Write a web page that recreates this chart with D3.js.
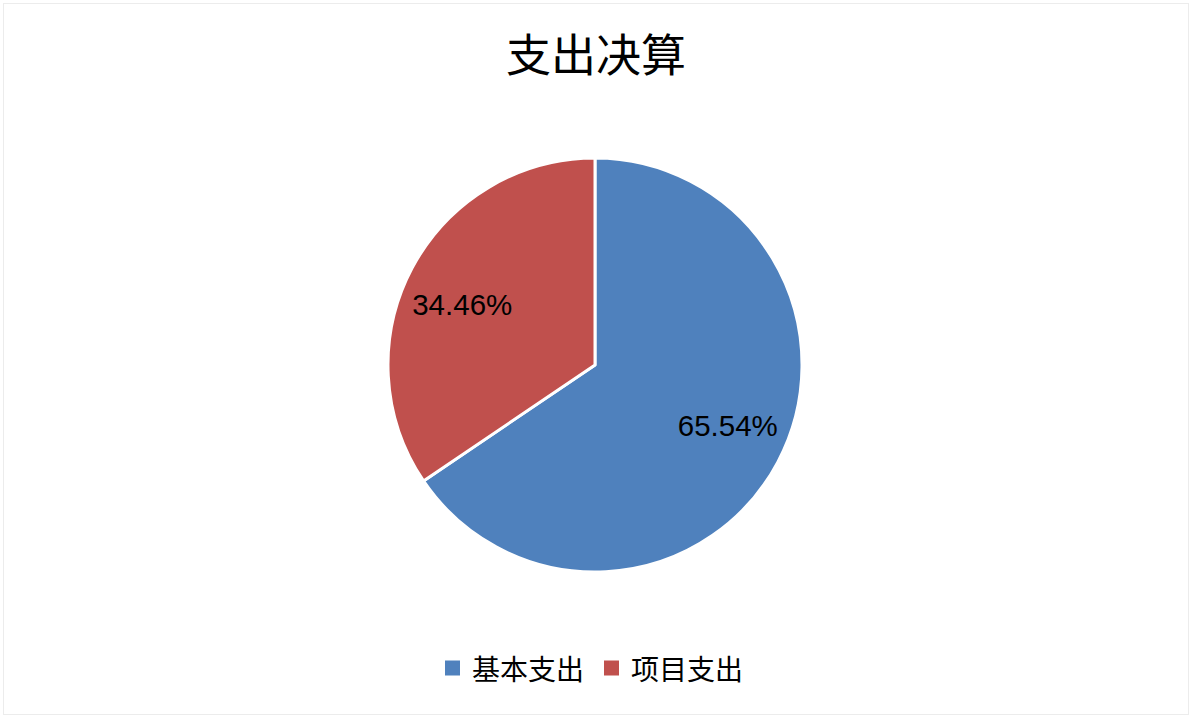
<!DOCTYPE html>
<html>
<head>
<meta charset="utf-8">
<script src="https://cdn.jsdelivr.net/npm/d3@7"></script>
<style>
    body { margin: 0; background: #fff; }
</style>
</head>
<body>
<div id="chart"></div>
<script>
var title = "支出决算";
var categories = ["基本支出", "项目支出"];
var values = [65.54, 34.46];
var colors = ["#4F81BD", "#C0504D"];

var width = 1195, height = 720;
var cx = 595, cy = 365, radius = 207;

var svg = d3.select("#chart")
    .append("svg")
    .attr("width", width)
    .attr("height", height);

// chart frame
svg.append("rect")
    .attr("x", 3.5)
    .attr("y", 3.5)
    .attr("width", 1185)
    .attr("height", 711)
    .attr("fill", "#fff")
    .attr("stroke", "#ececec")
    .attr("stroke-width", 1);

svg.append("text")
    .attr("x", 596)
    .attr("y", 52)
    .attr("text-anchor", "middle")
    .attr("dominant-baseline", "central")
    .attr("font-family", "'Noto Sans CJK SC', sans-serif")
    .attr("font-size", 45)
    .attr("fill", "#000")
    .text(title);

var color = d3.scaleOrdinal().domain(categories).range(colors);

var pie = d3.pie()
    .sort(null)
    .value(d => d.value);

var data = categories.map((c, i) => ({ name: c, value: values[i] }));

var arc = d3.arc().innerRadius(0).outerRadius(radius);

// label sits at ~70% of the radius, turned a little toward the horizontal
function labelPos(d) {
    let a = (d.startAngle + d.endAngle) / 2 - 0.06;
    let r = radius * 0.705;
    return [r * Math.sin(a), -r * Math.cos(a)];
}

var g = svg.append("g")
    .attr("transform", `translate(${cx},${cy})`);

var slices = g.selectAll("g.slice")
    .data(pie(data))
    .enter()
    .append("g")
    .attr("class", "slice");

slices.append("path")
    .attr("d", arc)
    .attr("fill", d => color(d.data.name))
    .attr("stroke", "#fff")
    .attr("stroke-width", 3)
    .attr("stroke-linejoin", "round");

slices.append("text")
    .attr("transform", d => `translate(${labelPos(d)})`)
    .attr("text-anchor", "middle")
    .attr("dy", "0.36em")
    .attr("font-family", "'Liberation Sans', Arial, sans-serif")
    .attr("font-size", 29.5)
    .attr("fill", "#000")
    .text(d => d.data.value.toFixed(2) + "%");

// legend
var legendX = [445, 604];
var legend = svg.selectAll("g.legend")
    .data(categories)
    .enter()
    .append("g")
    .attr("class", "legend")
    .attr("transform", (d, i) => `translate(${legendX[i]},668)`);

legend.append("rect")
    .attr("x", 0)
    .attr("y", -7.5)
    .attr("width", 15)
    .attr("height", 15)
    .attr("fill", d => color(d));

legend.append("text")
    .attr("x", 27)
    .attr("y", 0)
    .attr("dominant-baseline", "central")
    .attr("font-family", "'Noto Sans CJK SC', sans-serif")
    .attr("font-size", 28)
    .attr("fill", "#000")
    .text(d => d);
</script>
</body>
</html>
